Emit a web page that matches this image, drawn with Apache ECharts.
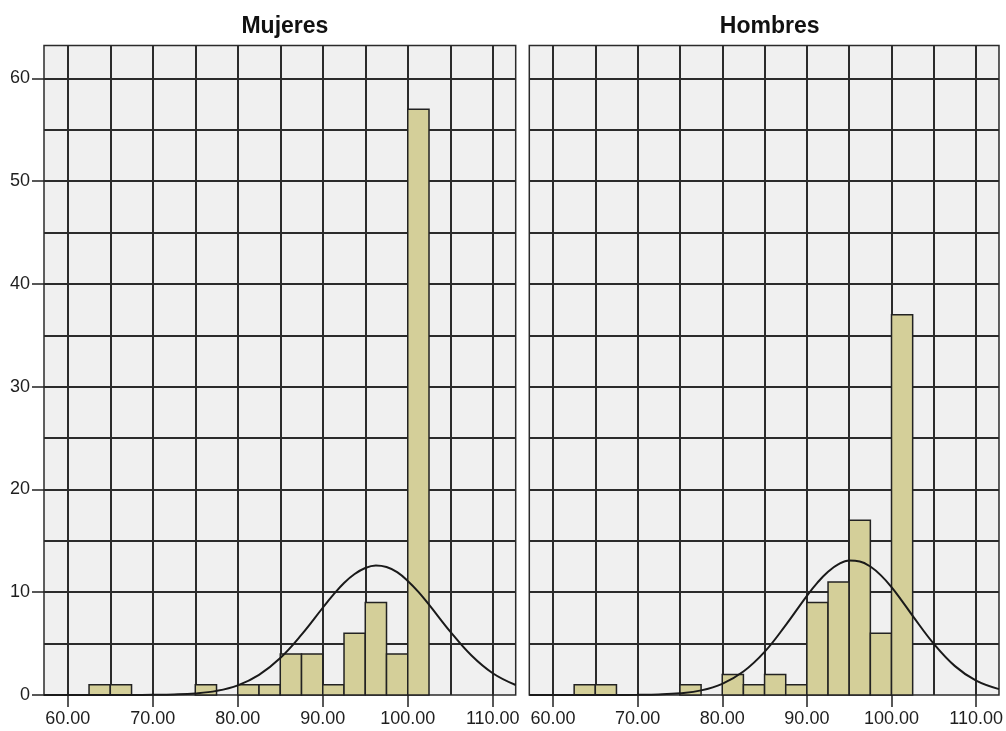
<!DOCTYPE html>
<html>
<head>
<meta charset="utf-8">
<script src="https://cdn.jsdelivr.net/npm/echarts@6/dist/echarts.min.js"></script>
<style>
  html, body { margin: 0; padding: 0; background: #fff; }
  #chart { width: 1006px; height: 731px; }
</style>
</head>
<body>
<div id="chart"></div>
<script>
// bin edges (width 2.5) and counts per panel
const binEdges = [62.5, 65, 67.5, 70, 72.5, 75, 77.5, 80, 82.5, 85, 87.5, 90, 92.5, 95, 97.5, 100, 102.5];
const mujeresCounts = [1, 1, 0, 0, 0, 1, 0, 1, 1, 4, 4, 1, 6, 9, 4, 57];
const hombresCounts = [1, 1, 0, 0, 0, 1, 0, 2, 1, 2, 1, 9, 11, 17, 6, 37];

// normal curve
const curveX = [57.2, 60, 62.5, 65, 67.5, 70, 72.5, 75, 77.5, 80, 82.5, 85, 87.5, 90, 91.25, 92.5, 93.75, 95, 96.25, 97.5, 98.75, 100, 101.25, 102.5, 105, 107.5, 110, 112.7];
const mujeresCurve = [0, 0, 0, 0.001, 0.004, 0.015, 0.05, 0.15, 0.4, 0.94, 1.96, 3.6, 5.87, 8.49, 9.76, 10.9, 11.77, 12.36, 12.6, 12.45, 11.95, 11.1, 10.04, 8.8, 6.17, 3.84, 2.12, 0.97];
const hombresCurve = [0, 0, 0, 0.001, 0.004, 0.015, 0.053, 0.17, 0.45, 1.09, 2.28, 4.19, 6.8, 9.65, 10.94, 12.0, 12.73, 13.08, 13.0, 12.5, 11.64, 10.5, 9.14, 7.7, 4.98, 2.81, 1.39, 0.57];

const panelTitles = ['Mujeres', 'Hombres'];
const xTickValues = [60, 70, 80, 90, 100, 110];
const yTickValues = [0, 10, 20, 30, 40, 50, 60];
const gridXLines = [60, 65, 70, 75, 80, 85, 90, 95, 100, 105, 110];
const gridYLines = [5, 10, 15, 20, 25, 30, 35, 40, 45, 50, 55, 60];

const X_MIN = 57.2, X_MAX = 112.7, Y_MAX = 63.2;
const FONT = '"Liberation Sans", Arial, sans-serif';

const chart = echarts.init(document.getElementById('chart'));

function binData(counts) {
  return counts.map((c, i) => [binEdges[i], binEdges[i + 1], c]);
}

function renderBin(params, api) {
  const count = api.value(2);
  if (!count) return null;
  const p0 = api.coord([api.value(0), count]);
  const p1 = api.coord([api.value(1), 0]);
  return {
    type: 'rect',
    shape: { x: p0[0], y: p0[1], width: p1[0] - p0[0], height: p1[1] - p0[1] },
    style: { fill: '#d4cf99', stroke: '#222', lineWidth: 1.5 }
  };
}

const grids = [
  { left: 44, width: 471.7, top: 45.5, bottom: 36 },
  { left: 529.3, width: 470.7, top: 45.5, bottom: 36 }
].map(g => Object.assign(g, {
  show: true,
  backgroundColor: '#f0f0f0',
  borderColor: '#2b2b2b',
  borderWidth: 1.5
}));

const xAxes = [0, 1].map(i => ({
  type: 'value',
  gridIndex: i,
  min: X_MIN,
  max: X_MAX,
  axisLine: { show: false },
  splitLine: { show: false },
  axisTick: {
    show: true,
    customValues: xTickValues,
    length: 12,
    lineStyle: { color: '#222', width: 1.5 }
  },
  axisLabel: {
    customValues: xTickValues,
    formatter: v => v.toFixed(2),
    margin: 15,
    color: '#1e1e1e',
    fontSize: 18,
    fontFamily: FONT
  }
}));

const yAxes = [0, 1].map(i => ({
  type: 'value',
  gridIndex: i,
  min: 0,
  max: Y_MAX,
  axisLine: { show: false },
  splitLine: { show: false },
  axisTick: {
    show: i === 0,
    customValues: yTickValues,
    length: 12,
    lineStyle: { color: '#222', width: 1.5 }
  },
  axisLabel: {
    show: i === 0,
    customValues: yTickValues,
    margin: 14,
    color: '#1e1e1e',
    fontSize: 18,
    fontFamily: FONT
  }
}));

const gridLineData = [
  ...gridXLines.map(v => ({ xAxis: v })),
  ...gridYLines.map(v => ({ yAxis: v }))
];

const series = [];
[mujeresCounts, hombresCounts].forEach((counts, i) => {
  series.push({
    type: 'custom',
    xAxisIndex: i,
    yAxisIndex: i,
    z: 2,
    renderItem: renderBin,
    encode: { x: [0, 1], y: 2 },
    data: binData(counts),
    silent: true,
    markLine: {
      silent: true,
      z: 1,
      symbol: ['none', 'none'],
      label: { show: false },
      emphasis: { disabled: true },
      lineStyle: { color: '#2b2b2b', width: 2, type: 'solid' },
      data: gridLineData
    }
  });
});
[mujeresCurve, hombresCurve].forEach((curve, i) => {
  series.push({
    type: 'line',
    xAxisIndex: i,
    yAxisIndex: i,
    z: 3,
    smooth: 0.4,
    symbol: 'none',
    silent: true,
    lineStyle: { color: '#1a1a1a', width: 2 },
    data: curveX.map((x, k) => [x, curve[k]])
  });
});

chart.setOption({
  animation: false,
  title: panelTitles.map((t, i) => ({
    text: t,
    left: i === 0 ? 279.9 : 764.7,
    textAlign: 'center',
    top: 10,
    textStyle: { fontSize: 23, fontWeight: 'bold', color: '#111', fontFamily: FONT }
  })),
  grid: grids,
  xAxis: xAxes,
  yAxis: yAxes,
  series: series
});
</script>
</body>
</html>
